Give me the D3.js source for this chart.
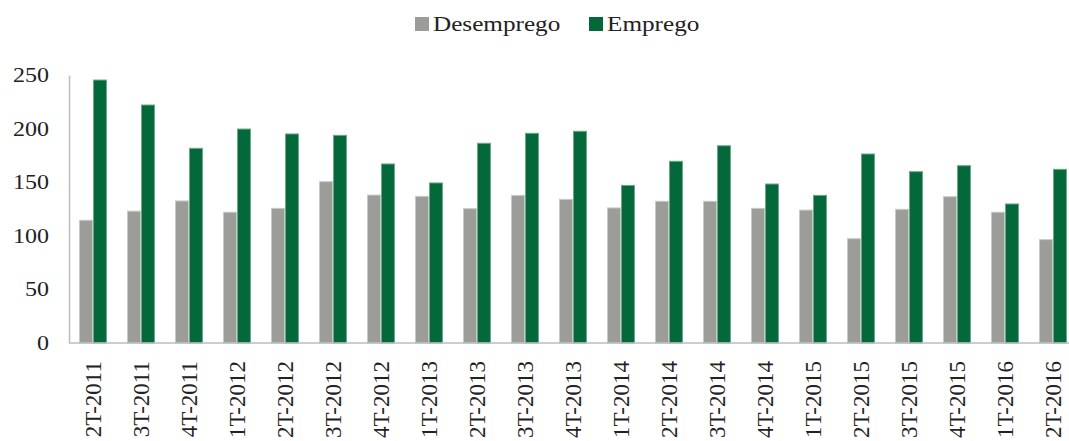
<!DOCTYPE html>
<head>
  <meta charset="utf-8">
  <script src="https://d3js.org/d3.v7.min.js"></script>
  <style>
    body { margin:0; background:#fff; }
    text { font-family: "Liberation Serif", "Times New Roman", serif; fill:#222; }
  </style>
</head>
<body>
  <div id=figure></div>
  <script>
    var trimestres = ["2T-2011","3T-2011","4T-2011","1T-2012","2T-2012","3T-2012","4T-2012",
      "1T-2013","2T-2013","3T-2013","4T-2013","1T-2014","2T-2014","3T-2014","4T-2014",
      "1T-2015","2T-2015","3T-2015","4T-2015","1T-2016","2T-2016"];
    var desemprego = [114.5,123,132.5,122,125.6,150.5,138,136.8,125.3,137.7,134,126,132.2,
      132.2,125.6,124,97.3,124.7,136.5,122,96.4];
    var emprego = [245.3,222,181.6,199.6,195,193.7,167,149.3,186.3,195.6,197.5,147,169.5,
      184,148.3,137.7,176.3,159.8,165.4,129.7,162];
    var series = ["Desemprego","Emprego"];
    var yTicks = [0,50,100,150,200,250];

    var width = 1069, height = 441;
    var margin = {top: 75, right: -8, bottom: 98, left: 69};
    var w = width - margin.left - margin.right;
    var h = height - margin.top - margin.bottom;

    var couleur = d3.scaleOrdinal().domain(series).range(["#9c9c9b","#04693a"]);
    var contour = d3.scaleOrdinal().domain(series).range(["#c9c9c9","#6aa886"]);

    var svg = d3.select("#figure").append("svg")
      .attr("width", width)
      .attr("height", height);
    var g = svg.append("g")
      .attr("transform","translate(" + margin.left + "," + margin.top + ")");

    var x = d3.scaleBand().domain(trimestres).range([0, w]).paddingInner(0).paddingOuter(0);
    var x1 = d3.scaleBand().domain(series).range([x.bandwidth()/2 - 14, x.bandwidth()/2 + 14]);
    var y = d3.scaleLinear().domain([0,250]).range([h,0]);

    var donnees = trimestres.map(function(t,i){
      return {t:t, v:[{s:"Desemprego", val:desemprego[i]},{s:"Emprego", val:emprego[i]}]};
    });

    var grp = g.selectAll(".grp").data(donnees).enter().append("g")
      .attr("transform", function(d){ return "translate(" + x(d.t) + ",0)"; });
    grp.selectAll("rect").data(function(d){ return d.v; }).enter().append("rect")
      .attr("x", function(d){ return x1(d.s) + 0.5; })
      .attr("width", x1.bandwidth() - 1)
      .attr("y", function(d){ return y(d.val); })
      .attr("height", function(d){ return h - y(d.val); })
      .attr("fill", function(d){ return couleur(d.s); })
      .attr("stroke", function(d){ return contour(d.s); })
      .attr("stroke-width", 1);

    // axe y (ligne + étiquettes)
    var yAxis = d3.axisLeft(y).tickValues(yTicks).tickSize(0).tickPadding(20);
    var ya = g.append("g").call(yAxis);
    ya.select(".domain").attr("stroke","#bdbdbd").attr("stroke-width",1.5);
    ya.selectAll("text")
      .style("font-family","Liberation Serif, serif")
      .style("font-size","20px")
      .attr("fill","#222")
      .attr("transform", function(){ var xx = +d3.select(this).attr("x"); return "scale(1.2,1)"; })
      .attr("x", -20/1.2);

    // axe x
    g.append("line")
      .attr("x1",0).attr("x2",w)
      .attr("y1",h).attr("y2",h)
      .attr("stroke","#bdbdbd").attr("stroke-width",1.5);

    g.selectAll(".lab").data(trimestres).enter().append("text")
      .attr("class","lab")
      .attr("transform", function(d){ return "translate(" + (x(d) + x.bandwidth()/2 + 8) + "," + (h + 18) + ") rotate(-90)"; })
      .attr("text-anchor","end")
      .style("font-size","23px")
      .text(function(d){ return d; });

    // légende
    var legX = [415, 589];
    var leg = svg.selectAll(".legend").data(series).enter().append("g")
      .attr("transform", function(d,i){ return "translate(" + legX[i] + ",17)"; });
    leg.append("rect")
      .attr("width",14).attr("height",14)
      .attr("fill", function(d){ return couleur(d); });
    leg.append("text")
      .attr("transform","translate(18,14) scale(1.2,1)")
      .style("font-size","21px")
      .text(function(d){ return d; });
  </script>
</body>
